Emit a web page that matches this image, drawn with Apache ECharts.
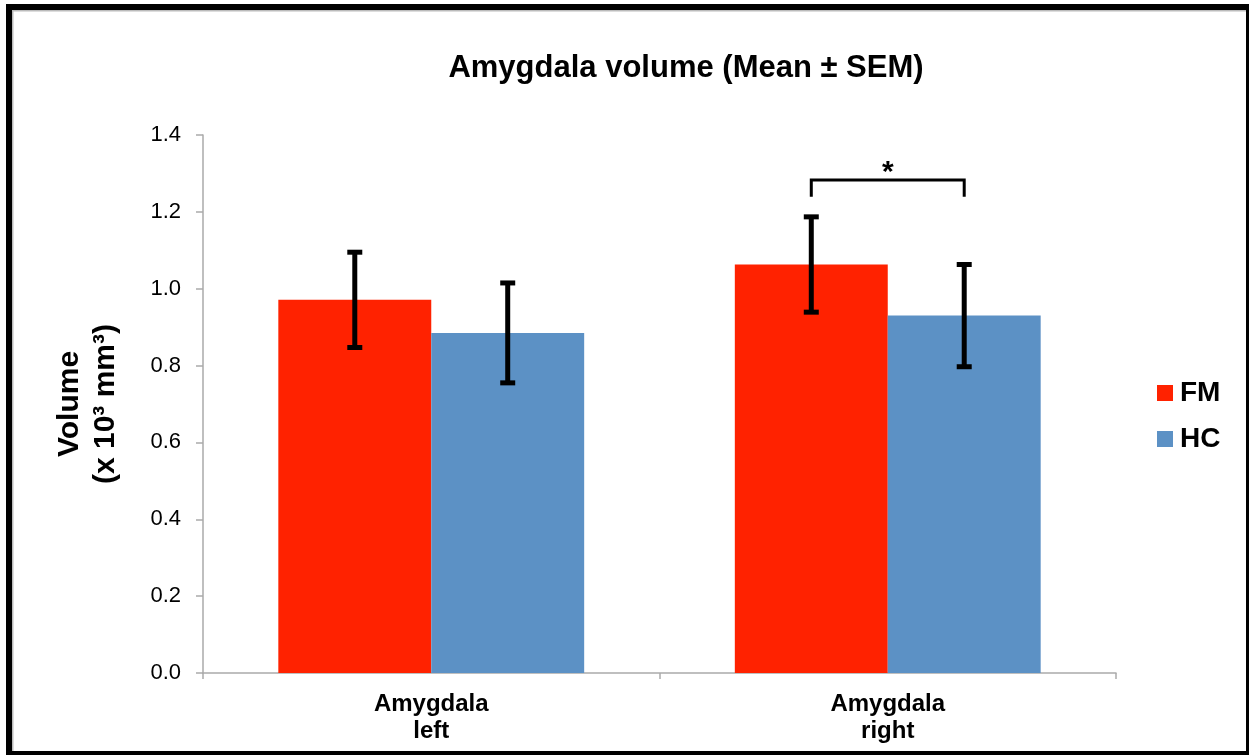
<!DOCTYPE html>
<html><head><meta charset="utf-8">
<script src="https://cdn.jsdelivr.net/npm/echarts@6/dist/echarts.min.js"></script>
<style>html,body{margin:0;padding:0;background:#fff}#c{width:1249px;height:755px}</style>
</head><body><div id="c"></div>
<script>
// ---- data ----
const categories = ['Amygdala\nleft', 'Amygdala\nright'];
const seriesNames = ['FM', 'HC'];
const fmMean = [0.971, 1.063];
const fmSem = [0.124, 0.124];
const hcMean = [0.885, 0.930];
const hcSem = [0.130, 0.133];
const yMin = 0, yMax = 1.4, yInterval = 0.2;
const bracketCategory = [1];
const bracketTop = [1.283];
const bracketBottom = [1.239];
const bracketLabel = ['*'];

const FONT = "'Liberation Sans', Arial, Helvetica, sans-serif";
const RED = '#FF2200';
const BLUE = '#5C91C5';
const GAP = 0.33;

const chart = echarts.init(document.getElementById('c'));

function barOffset(api, side) {
  const catW = api.size([1, 0])[0];
  const barW = catW * (1 - GAP) / 2;
  return side * barW / 2;
}

const errData = [];
fmMean.forEach((m, i) => errData.push([i, m, fmSem[i], -1]));
hcMean.forEach((m, i) => errData.push([i, m, hcSem[i], 1]));

const bracketData = bracketCategory.map((c, i) => [c, bracketTop[i], bracketBottom[i]]);

chart.setOption({
  animation: false,
  textStyle: { fontFamily: FONT },
  title: {
    text: 'Amygdala volume (Mean ± SEM)',
    left: 681, top: 48, textAlign: 'center',
    textStyle: { fontFamily: FONT, fontWeight: 'bold', fontSize: 31, color: '#000' }
  },
  legend: {
    data: seriesNames,
    orient: 'vertical',
    left: 1152, top: 374,
    icon: 'rect', itemWidth: 16, itemHeight: 16, itemGap: 18,
    textStyle: { fontFamily: FONT, fontWeight: 'bold', fontSize: 28, color: '#000', padding: [0, 0, 0, 2] }
  },
  grid: { left: 203, right: 133, top: 135, bottom: 82, containLabel: false },
  xAxis: {
    type: 'category',
    data: categories,
    axisLine: { lineStyle: { color: '#AAAAAA', width: 1.5 } },
    axisTick: { show: true, alignWithLabel: false, length: 6, lineStyle: { color: '#AAAAAA', width: 1.5 } },
    axisLabel: { fontFamily: FONT, fontWeight: 'bold', fontSize: 24, color: '#000', lineHeight: 27, margin: 18 }
  },
  yAxis: {
    type: 'value',
    min: yMin, max: yMax, interval: yInterval,
    name: 'Volume\n(x 10³ mm³)',
    nameLocation: 'middle',
    nameGap: 79,
    nameTextStyle: { fontFamily: FONT, fontWeight: 'bold', fontSize: 30, color: '#000', lineHeight: 36 },
    axisLine: { show: true, lineStyle: { color: '#AAAAAA', width: 1.5 } },
    axisTick: { show: true, length: 7, lineStyle: { color: '#AAAAAA', width: 1.5 } },
    axisLabel: { fontFamily: FONT, fontSize: 22, color: '#000', margin: 22, formatter: v => v.toFixed(1) },
    splitLine: { show: false }
  },
  series: [
    { name: 'FM', type: 'bar', data: fmMean, itemStyle: { color: RED }, barGap: '0%', barCategoryGap: (GAP * 100) + '%' },
    { name: 'HC', type: 'bar', data: hcMean, itemStyle: { color: BLUE }, barGap: '0%', barCategoryGap: (GAP * 100) + '%' },
    {
      type: 'custom', name: 'err', z: 10,
      data: errData,
      renderItem: function (params, api) {
        const cat = api.value(0), m = api.value(1), s = api.value(2), side = api.value(3);
        const off = barOffset(api, side);
        const t = api.coord([cat, m + s]);
        const b = api.coord([cat, m - s]);
        const x = t[0] + off;
        const cap = 7.5;
        const st = { stroke: '#000', lineWidth: 5 };
        return {
          type: 'group',
          children: [
            { type: 'line', shape: { x1: x, y1: t[1], x2: x, y2: b[1] }, style: st },
            { type: 'line', shape: { x1: x - cap, y1: t[1], x2: x + cap, y2: t[1] }, style: st },
            { type: 'line', shape: { x1: x - cap, y1: b[1], x2: x + cap, y2: b[1] }, style: st }
          ]
        };
      }
    },
    {
      type: 'custom', name: 'bracket', z: 10,
      data: bracketData,
      renderItem: function (params, api) {
        const cat = api.value(0), top = api.value(1), bot = api.value(2);
        const t = api.coord([cat, top]);
        const b = api.coord([cat, bot]);
        const x1 = t[0] + barOffset(api, -1);
        const x2 = t[0] + barOffset(api, 1);
        return {
          type: 'group',
          children: [
            { type: 'polyline', shape: { points: [[x1, b[1]], [x1, t[1]], [x2, t[1]], [x2, b[1]]] },
              style: { stroke: '#000', lineWidth: 3, fill: null } },
            { type: 'text', style: { text: bracketLabel[params.dataIndex], x: (x1 + x2) / 2, y: t[1] + 8,
              align: 'center', verticalAlign: 'bottom', fontFamily: FONT, fontWeight: 'bold', fontSize: 30, fill: '#000' } }
          ]
        };
      }
    }
  ],
  graphic: [
    { type: 'rect', shape: { x: 6, y: 4, width: 1243, height: 6 }, style: { fill: '#000' }, silent: true },
    { type: 'rect', shape: { x: 6, y: 4, width: 6, height: 751 }, style: { fill: '#000' }, silent: true },
    { type: 'rect', shape: { x: 1246, y: 4, width: 3, height: 751 }, style: { fill: '#000' }, silent: true },
    { type: 'rect', shape: { x: 6, y: 751, width: 1243, height: 4 }, style: { fill: '#000' }, silent: true },
    { type: 'rect', shape: { x: 12, y: 10, width: 1234, height: 1.5 }, style: { fill: '#BBBBBB' }, silent: true },
    { type: 'rect', shape: { x: 12, y: 10, width: 1.5, height: 741 }, style: { fill: '#BBBBBB' }, silent: true }
  ]
});
</script></body></html>
